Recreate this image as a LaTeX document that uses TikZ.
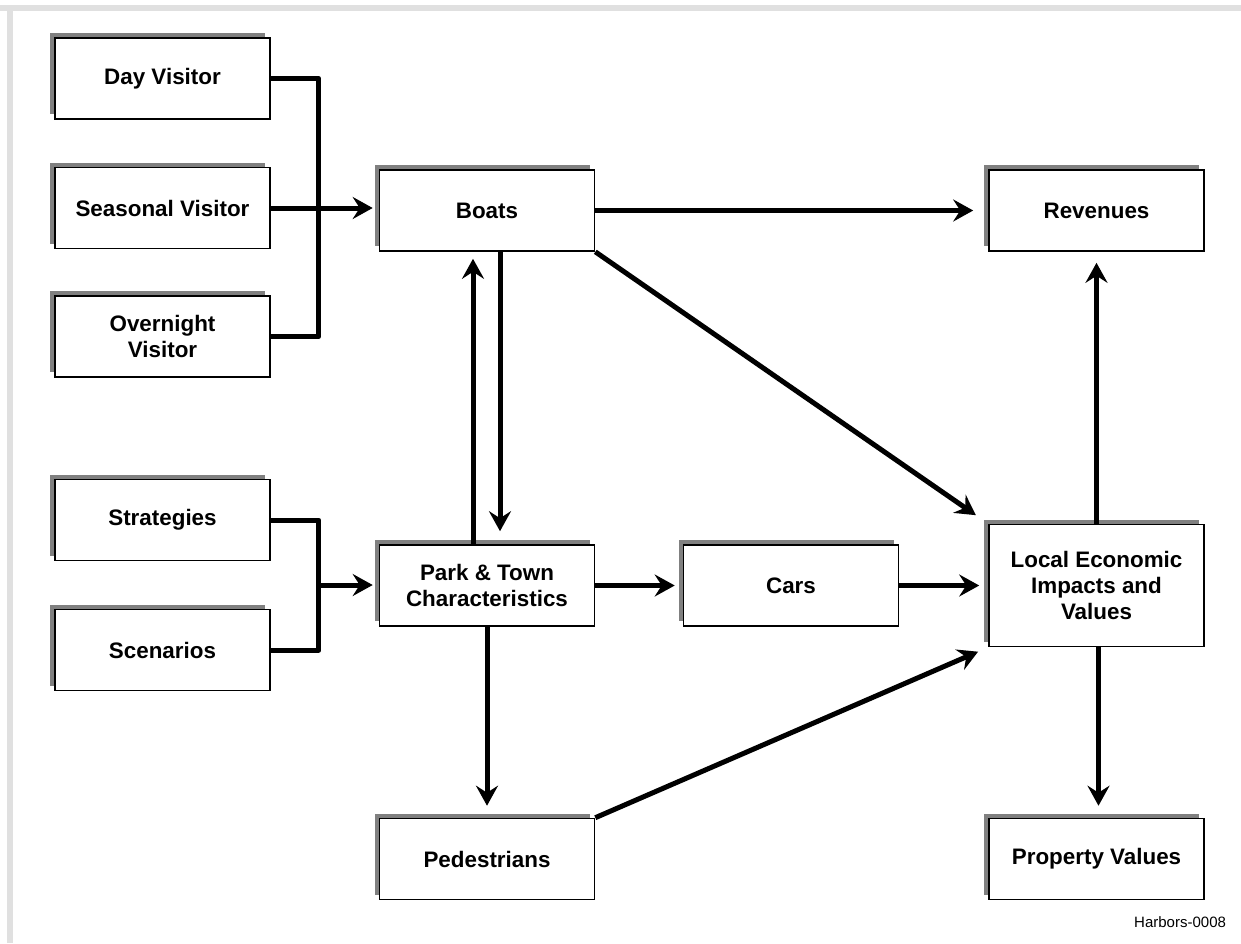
\documentclass[tikz,border=0pt]{standalone}
\usepackage{fontspec}
\setmainfont{Liberation Sans}
\usepackage{tikz}
\usetikzlibrary{arrows.meta, shadows, calc}

\tikzset{
  box/.style={draw, line width=0.8pt, fill=white, minimum width=107.5pt, minimum height=40.5pt,
    inner sep=0pt, align=center, font=\fontsize{11.2}{13}\selectfont\bfseries,
    drop shadow={shadow xshift=-2.5pt, shadow yshift=2.5pt, fill=black!50, opacity=1}},
  link/.style={line width=2.5pt, line join=round},
  arr/.style={link, -{Stealth[length=10pt, width=11pt, inset=3.5pt]}}
}

\begin{document}
\begin{tikzpicture}[x=0.5pt, y=-0.5pt]
\useasboundingbox (0,0) rectangle (1241,943);
\fill[black!12] (0,5) rectangle (1241,11);
\fill[black!12] (7,11) rectangle (13,943);

\node[box] (dv) at (162.5,78.5) {Day Visitor};
\node[box] (sv) at (162.5,208) {Seasonal Visitor};
\node[box] (ov) at (162.5,336.5) {Overnight\\Visitor};
\node[box] (st) at (162.5,520) {Strategies};
\node[box] (sc) at (162.5,650) {Scenarios};
\node[box] (boats) at (487,210.5) {Boats};
\node[box] (park) at (487,585.5) {Park \& Town\\Characteristics};
\node[box] (cars) at (791,585.5) {Cars};
\node[box] (rev) at (1096.5,210.5) {Revenues};
\node[box, minimum height=61pt] (local) at (1096.5,585.5) {Local Economic\\Impacts and\\Values};
\node[box] (ped) at (487,859) {Pedestrians};
\node[box] (prop) at (1096.5,859) {Property Values};
\node[anchor=east, font=\fontsize{7.5}{9}\selectfont] (tag) at (1233,922) {Harbors-0008};

\coordinate (vj) at ($(st.east)+(48,65)$);
\draw[link] (dv.east) -- ++(48,0) |- (ov.east);
\draw[arr, shorten >=3pt] (sv.east) -- (sv.east -| boats.west);
\draw[link] (st.east) -- ++(48,0) |- (sc.east);
\draw[arr, shorten >=3pt] (vj) -- (vj -| park.west);

\draw[arr, shorten >=7.5pt] (boats.east) -- (rev.west);
\draw[arr, shorten >=7.5pt] (boats.south east) -- (local.north west);
\draw[arr, shorten >=6.5pt] ([xshift=6.5pt]boats.south) -- ([xshift=6.5pt]park.north);
\draw[arr, shorten >=3.5pt] ([xshift=-7pt]park.north) -- ([xshift=-7pt]boats.south);
\draw[arr, shorten >=4pt] (park.east) -- (cars.west);
\draw[arr, shorten >=4.5pt] (cars.east) -- (local.west);
\draw[arr, shorten >=6pt] (park.south) -- (ped.north);
\draw[arr, shorten >=5.5pt] (ped.north east) -- (local.south west);
\draw[arr, shorten >=5.5pt] (local.north) -- (rev.south);
\draw[arr, shorten >=6pt] ([xshift=1pt]local.south) -- ([xshift=1pt]prop.north);
\end{tikzpicture}
\end{document}
